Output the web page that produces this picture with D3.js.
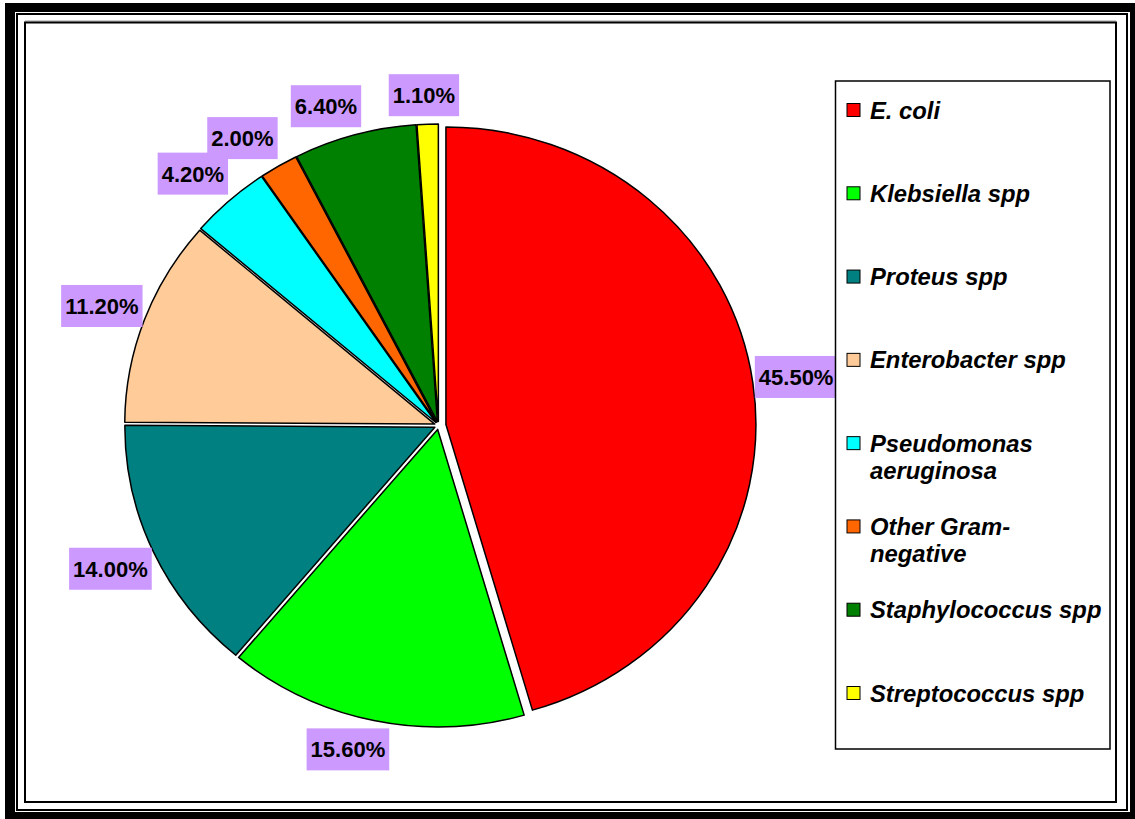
<!DOCTYPE html>
<html>
<head>
<meta charset="utf-8">
<script src="https://cdn.jsdelivr.net/npm/d3@7"></script>
<style>
  html, body { margin: 0; padding: 0; background: #fff; }
  svg { display: block; }
</style>
</head>
<body>
<svg id="chart" width="1135" height="819"></svg>
<script>
// Isolates by organism (% of total)
const categories = [
  "E. coli",
  "Klebsiella spp",
  "Proteus spp",
  "Enterobacter spp",
  "Pseudomonas aeruginosa",
  "Other Gram-negative",
  "Staphylococcus spp",
  "Streptococcus spp"
];
const shares = [45.5, 15.6, 14.0, 11.2, 4.2, 2.0, 6.4, 1.1];
const sliceColors = ["#FF0000", "#00FF00", "#008080", "#FFCC99", "#00FFFF", "#FF6600", "#008000", "#FFFF00"];
// how far each slice is pulled out from the centre (px)
const explodeOffsets = [7.5, 4, 4, 4, 4, 4, 4, 4];

const W = 1135, H = 819;
const FONT = "'Liberation Sans', Arial, Helvetica, sans-serif";
const svg = d3.select("#chart");

// ---- page frame: heavy outer band, thin rule, chart-area border ----
svg.append("rect").attr("x", 5).attr("y", 3).attr("width", W).attr("height", H).attr("fill", "#000");
svg.append("rect").attr("x", 15).attr("y", 12).attr("width", 1115).attr("height", 800).attr("fill", "#fff");
svg.append("rect").attr("x", 17).attr("y", 14).attr("width", 1110).attr("height", 796)
  .attr("fill", "none").attr("stroke", "#000").attr("stroke-width", 2);
svg.append("line").attr("x1", 25).attr("x2", 1116).attr("y1", 21).attr("y2", 21)
  .attr("stroke", "#999").attr("stroke-width", 1);
svg.append("rect").attr("x", 25).attr("y", 22.5).attr("width", 1091).attr("height", 779.5)
  .attr("fill", "#fff").attr("stroke", "#000").attr("stroke-width", 2);

// ---- pie ----
const cx = 438.5, cy = 425.5, ry = 297.5, rx = 310, sx = rx / ry;
const pie = d3.pie().sort(null).value(d => d).startAngle(0).endAngle(2 * Math.PI);
const arcs = pie(shares);
const arc = d3.arc().innerRadius(0).outerRadius(ry);
const mid = d => (d.startAngle + d.endAngle) / 2;

svg.append("g").selectAll("path").data(arcs).join("path")
  .attr("transform", (d, i) => {
    const m = mid(d), o = explodeOffsets[i];
    return `translate(${cx + o * Math.sin(m)},${cy - o * Math.cos(m)}) scale(${sx},1)`;
  })
  .attr("d", arc)
  .attr("fill", (d, i) => sliceColors[i])
  .attr("stroke", "#000")
  .attr("stroke-width", 1.5)
  .attr("stroke-linejoin", "round")
  .attr("vector-effect", "non-scaling-stroke");

// ---- value labels outside each slice ----
const fmt = v => d3.format(".2f")(v) + "%";
const labelSize = 22;
const clamp = v => Math.max(-1, Math.min(1, v));
const labelG = svg.append("g");
arcs.forEach((d, i) => {
  const m = mid(d), o = explodeOffsets[i];
  const s = Math.sin(m), c = Math.cos(m);
  const px = cx + (rx + o) * s, py = cy - (ry + o) * c;
  const g = labelG.append("g");
  const t = g.append("text")
    .attr("font-family", FONT).attr("font-weight", "bold").attr("font-size", labelSize)
    .attr("text-anchor", "middle").attr("fill", "#000")
    .text(fmt(d.data));
  const w = t.node().getComputedTextLength() + 8, h = 42;
  const gapX = 2, gapY = 8;
  const lx = px + gapX * s + (w / 2) * clamp(3 * s);
  const ly = py - gapY * c - (h / 2) * clamp(1.5 * c);
  g.insert("rect", "text")
    .attr("x", lx - w / 2).attr("y", ly - h / 2).attr("width", w).attr("height", h)
    .attr("fill", "#CC99FF");
  t.attr("x", lx).attr("y", ly + labelSize * 0.716 / 2);
});

// ---- legend ----
const legendSize = 23.8;
const legendG = svg.append("g");
legendG.append("rect").attr("x", 835.5).attr("y", 81).attr("width", 274.5).attr("height", 668)
  .attr("fill", "#fff").attr("stroke", "#000").attr("stroke-width", 1.5);

const rowY = d3.scalePoint().domain(categories).range([110, 693]);
const textX = 870, wrapWidth = 234, lineStep = 27;

const measure = legendG.append("text")
  .attr("font-family", FONT).attr("font-weight", "bold").attr("font-style", "italic")
  .attr("font-size", legendSize).attr("visibility", "hidden");
const textWidth = s => measure.text(s).node().getComputedTextLength();

function wrap(label) {
  const tokens = label.match(/[^\s-]+-?|\s+/g).filter(t => t.trim().length);
  const lines = [];
  let cur = "";
  tokens.forEach(tok => {
    const joiner = cur === "" ? "" : (cur.endsWith("-") ? "" : " ");
    const trial = cur + joiner + tok;
    if (cur !== "" && textWidth(trial) > wrapWidth) { lines.push(cur); cur = tok; }
    else cur = trial;
  });
  if (cur) lines.push(cur);
  return lines;
}

categories.forEach((name, i) => {
  const yc = rowY(name);
  legendG.append("rect")
    .attr("x", 847).attr("y", yc - 6.5).attr("width", 13).attr("height", 13)
    .attr("fill", sliceColors[i]).attr("stroke", "#000").attr("stroke-width", 1);
  const t = legendG.append("text")
    .attr("font-family", FONT).attr("font-weight", "bold").attr("font-style", "italic")
    .attr("font-size", legendSize).attr("fill", "#000")
    .attr("x", textX).attr("y", yc + legendSize * 0.716 / 2);
  wrap(name).forEach((ln, j) => {
    t.append("tspan").attr("x", textX).attr("dy", j ? lineStep : 0).text(ln);
  });
});
measure.remove();
</script>
</body>
</html>
